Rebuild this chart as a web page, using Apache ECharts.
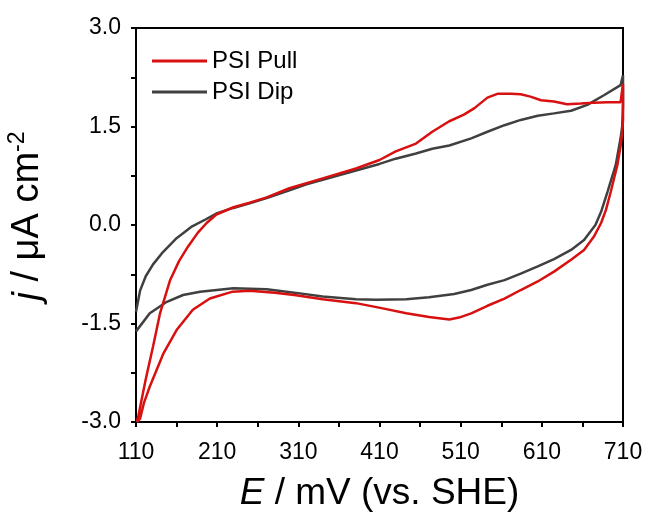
<!DOCTYPE html>
<html>
<head>
<meta charset="utf-8">
<script src="https://cdn.jsdelivr.net/npm/echarts@6/dist/echarts.min.js"></script>
<style>
html,body{margin:0;padding:0;background:#fff;}
#chart{width:648px;height:512px;}
</style>
</head>
<body>
<div id="chart"></div>
<script>
// Tick values / labels
const xLabelTicks = [110, 210, 310, 410, 510, 610, 710];
const xAllTicks = [110, 160, 210, 260, 310, 360, 410, 460, 510, 560, 610, 660, 710];
const yLabelTicks = [-3, -1.5, 0, 1.5, 3];
const yAllTicks = [-3, -2.25, -1.5, -0.75, 0, 0.75, 1.5, 2.25, 3];

// PSI Pull (red): potential (mV) and current density (µA cm^-2), in sweep order
const pullE = [111, 113, 122, 131, 139.5, 152, 163, 174, 186, 197, 209, 230, 250, 271, 299, 340, 381, 410, 430, 455, 475, 496, 514, 527, 543, 556, 572, 584, 596, 609, 625, 641, 658, 674, 691, 707, 710,
  710, 709, 707, 703, 695, 689, 683, 674, 662, 646, 625, 605, 584, 564, 543, 523, 508, 496, 471, 443, 414, 381, 340, 305, 281, 250, 229, 201, 180, 160, 144, 127, 120, 115, 111];
const pullJ = [-3.0, -2.9, -2.35, -1.85, -1.35, -0.84, -0.55, -0.33, -0.12, 0.03, 0.16, 0.27, 0.34, 0.42, 0.56, 0.71, 0.86, 0.99, 1.12, 1.24, 1.42, 1.58, 1.68, 1.78, 1.94, 2.0, 2.0, 1.99, 1.955, 1.90, 1.88, 1.84, 1.85, 1.86, 1.87, 1.87, 2.15,
  1.6, 1.4, 1.2, 0.91, 0.51, 0.23, 0.03, -0.18, -0.38, -0.53, -0.71, -0.86, -0.99, -1.12, -1.23, -1.345, -1.41, -1.44, -1.40, -1.345, -1.27, -1.19, -1.13, -1.066, -1.03, -1.0, -1.015, -1.12, -1.29, -1.6, -1.95, -2.46, -2.7, -2.95, -3.0];

// PSI Dip (dark grey)
const dipE = [110, 115, 122, 131, 142, 160, 178, 195, 210, 230, 250, 271, 299, 320, 340, 381, 410, 430, 455, 475, 496, 523, 543, 564, 584, 605, 625, 646, 666, 687, 707, 710,
  710, 709, 707, 701, 691, 683, 676, 662, 646, 625, 605, 584, 564, 543, 523, 502, 471, 443, 406, 381, 340, 305, 271, 230, 189, 168, 148, 127, 110];
const dipJ = [-1.32, -1.0, -0.78, -0.6, -0.43, -0.2, -0.03, 0.08, 0.18, 0.26, 0.33, 0.41, 0.53, 0.62, 0.69, 0.83, 0.93, 1.01, 1.09, 1.16, 1.21, 1.32, 1.42, 1.52, 1.60, 1.665, 1.70, 1.74, 1.83, 1.98, 2.13, 2.28,
  1.8, 1.5, 1.32, 0.91, 0.51, 0.2, 0.0, -0.23, -0.38, -0.52, -0.63, -0.74, -0.84, -0.91, -0.99, -1.05, -1.10, -1.13, -1.14, -1.13, -1.09, -1.03, -0.98, -0.964, -1.015, -1.066, -1.17, -1.345, -1.62];

const FONT = "'Liberation Sans', Arial, sans-serif";
const pairs = (xs, ys) => xs.map((x, i) => [x, ys[i]]);

const chart = echarts.init(document.getElementById('chart'), null, {renderer: 'canvas'});
chart.setOption({
  animation: false,
  backgroundColor: '#fff',
  grid: {left: 136, right: 25, top: 28, bottom: 90, outerBoundsMode: 'none', containLabel: false,
    show: true, borderColor: '#000', borderWidth: 2, backgroundColor: 'transparent'},
  legend: {
    orient: 'vertical', left: 152, top: 49, padding: 0, itemGap: 7,
    icon: 'rect', itemWidth: 55, itemHeight: 3,
    textStyle: {fontSize: 24, color: '#000', fontFamily: FONT},
    data: ['PSI Pull', 'PSI Dip']
  },
  xAxis: {
    type: 'value', min: 110, max: 710,
    name: '{i|E} / mV (vs. SHE)', nameLocation: 'middle', nameGap: 53,
    nameTextStyle: {fontSize: 37, color: '#000', fontFamily: FONT,
      rich: {i: {fontSize: 37, fontStyle: 'italic', color: '#000', fontFamily: FONT}}},
    axisLine: {show: true, onZero: false, lineStyle: {color: '#000', width: 2}},
    axisTick: {show: true, customValues: xAllTicks, length: 5, lineStyle: {color: '#000', width: 2}},
    axisLabel: {customValues: xLabelTicks, fontSize: 23, color: '#000', fontFamily: FONT, margin: 19},
    splitLine: {show: false}
  },
  yAxis: {
    type: 'value', min: -3, max: 3, interval: 1.5,
    name: '{i|j} / μA cm{s|-2}', nameLocation: 'middle', nameGap: 86,
    nameTextStyle: {fontSize: 38, color: '#000', fontFamily: FONT, lineHeight: 44, padding: [0, 0, 0, 18],
      rich: {i: {fontSize: 38, fontStyle: 'italic', color: '#000', fontFamily: FONT, lineHeight: 44},
             s: {fontSize: 23, color: '#000', fontFamily: FONT, verticalAlign: 'top', lineHeight: 23}}},
    axisLine: {show: true, onZero: false, lineStyle: {color: '#000', width: 2}},
    axisTick: {show: true, customValues: yAllTicks, length: 5, lineStyle: {color: '#000', width: 2}},
    axisLabel: {customValues: yLabelTicks, fontSize: 23, color: '#000', fontFamily: FONT, margin: 15,
      formatter: v => v.toFixed(1)},
    splitLine: {show: false}
  },
  series: [
    {name: 'PSI Pull', type: 'line', data: pairs(pullE, pullJ), showSymbol: false, symbol: 'none',
      color: '#d81010', lineStyle: {width: 2.5, color: '#d81010'}, z: 3},
    {name: 'PSI Dip', type: 'line', data: pairs(dipE, dipJ), showSymbol: false, symbol: 'none',
      color: '#404040', lineStyle: {width: 2.5, color: '#404040'}, z: 2}
  ]
});
</script>
</body>
</html>
